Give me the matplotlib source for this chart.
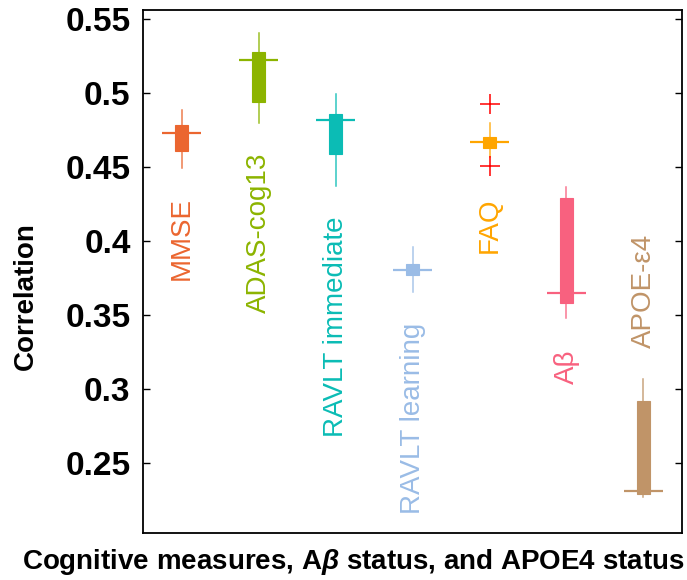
import numpy as np
import matplotlib
matplotlib.use("Agg")
import matplotlib.pyplot as plt

OUTPUT_FIG = "out.png"

plt.rcParams["font.family"] = ["Liberation Sans", "DejaVu Sans"]
plt.rcParams["mathtext.fontset"] = "custom"
plt.rcParams["mathtext.it"] = "Liberation Sans:italic:bold"
plt.rcParams["mathtext.rm"] = "Liberation Sans:bold"

# Correlation summaries per measure (box-plot statistics)
MEASURES = ["MMSE", "ADAS-cog13", "RAVLT immediate", "RAVLT learning",
            "FAQ", "A\u03b2", "APOE-\u03b54"]
WHIS_HI = [0.4887, 0.5405, 0.4993, 0.3964, 0.4797, 0.4369, 0.3070]
Q3 = [0.4786, 0.5277, 0.4862, 0.3847, 0.4703, 0.4291, 0.2921]
MEDIAN = [0.4734, 0.5227, 0.4818, 0.3806, 0.4673, 0.3653, 0.2315]
Q1 = [0.4612, 0.4939, 0.4588, 0.3772, 0.4628, 0.3585, 0.2292]
WHIS_LO = [0.4493, 0.4797, 0.4374, 0.3655, 0.4572, 0.3480, 0.2274]
OUTLIERS = [[], [], [], [], [0.4928, 0.4509], [], []]

COLORS = ["#EB6630", "#8CB400", "#0BBCB5", "#9ABCE6",
          "#FFA500", "#F8617F", "#C09468"]
YTICKS = [0.25, 0.3, 0.35, 0.4, 0.45, 0.5, 0.55]
YTICK_LABELS = ["0.25", "0.3", "0.35", "0.4", "0.45", "0.5", "0.55"]

# where each name label sits (data y) and whether it hangs below or sits above
LABEL_Y = [0.4300, 0.4599, 0.4166, 0.3448, 0.4299, 0.3266, 0.3279]
LABEL_VA = ["top", "top", "top", "top", "top", "top", "bottom"]


def main():
    fig = plt.figure(figsize=(6.87, 5.8), dpi=100)
    ax = fig.add_axes([0.2082, 0.081, 0.7845, 0.9018])

    positions = np.arange(1, len(MEASURES) + 1)
    stats = []
    for i, name in enumerate(MEASURES):
        stats.append({
            "label": name,
            "med": MEDIAN[i],
            "q1": Q1[i],
            "q3": Q3[i],
            "whislo": WHIS_LO[i],
            "whishi": WHIS_HI[i],
            "fliers": OUTLIERS[i],
        })

    bp = ax.bxp(stats, positions=positions, widths=0.17, patch_artist=True,
                showcaps=False, showfliers=True,
                medianprops=dict(visible=False),
                flierprops=dict(marker="+", markeredgecolor="red",
                                markersize=15, markeredgewidth=1.1))

    for i, color in enumerate(COLORS):
        bp["boxes"][i].set_facecolor(color)
        bp["boxes"][i].set_edgecolor(color)
        bp["boxes"][i].set_linewidth(0.8)
        for w in bp["whiskers"][2 * i:2 * i + 2]:
            w.set_color(color)
            w.set_linewidth(1.1)
            w.set_alpha(0.85)
        ax.hlines(MEDIAN[i], positions[i] - 0.25, positions[i] + 0.25,
                  color=color, linewidth=1.6)
        ax.text(positions[i], LABEL_Y[i], MEASURES[i], rotation=90,
                ha="center", va=LABEL_VA[i], color=color, fontsize=20)

    ax.set_xlim(0.5, 7.5)
    ax.set_ylim(0.2029, 0.5563)
    ax.set_xticks([])
    ax.set_yticks(YTICKS)
    ax.set_yticklabels(YTICK_LABELS, fontsize=24, fontweight="bold")
    ax.tick_params(axis="y", direction="in", length=5, width=1,
                   right=True, pad=9)
    for spine in ax.spines.values():
        spine.set_linewidth(1.3)

    ax.set_ylabel("Correlation", fontsize=20, fontweight="bold")
    ax.yaxis.set_label_coords(-0.193, 0.453)
    fig.text(0.514, 0.031, r"Cognitive measures, A$\beta$ status, and APOE4 status",
             ha="center", va="center", fontsize=20, fontweight="bold")

    fig.savefig(OUTPUT_FIG, dpi=100)


if __name__ == "__main__":
    main()
